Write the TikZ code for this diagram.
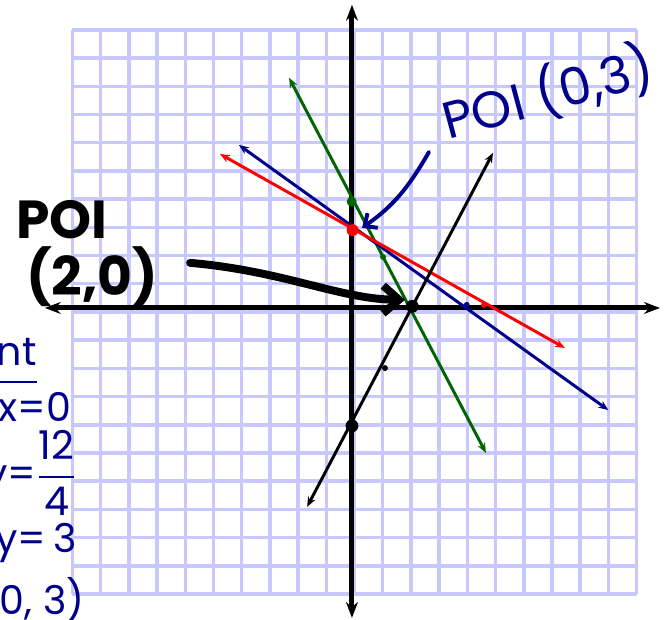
\documentclass[tikz,border=0pt]{standalone}
\usepackage{amsmath}
\usepackage{fontspec}
\setsansfont{Poppins}
\usepackage{tikz}
\usetikzlibrary{arrows.meta,positioning}
\definecolor{poiink}{RGB}{0,0,0}
\definecolor{poiblue}{RGB}{0,0,140}
\definecolor{poired}{RGB}{255,0,0}
\definecolor{poigreen}{RGB}{0,100,0}
\definecolor{poigrid}{RGB}{200,200,252}

\begin{document}
\begin{tikzpicture}[x=0.5cm,y=0.5cm,
  ln/.style={line width=1.5pt,{Stealth[length=5pt,width=4pt]}-{Stealth[length=5pt,width=4pt]}},
  ax/.style={line width=2.5pt,draw=poiink,{Stealth[length=8pt,width=6pt]}-{Stealth[length=8pt,width=6pt]}},
  dot/.style={circle,fill=#1,inner sep=0pt,minimum size=6pt},
  tick/.style={circle,fill=#1,inner sep=0pt,minimum size=3pt},
  hand/.style={font=\sffamily\fontsize{20}{22}\selectfont,text=poiblue,inner sep=0pt},
  poitxt/.style={font=\sffamily\bfseries\fontsize{27}{29}\selectfont,text=poiink,inner sep=0pt}]
\useasboundingbox (-12.57,-10.89) rectangle (11.08,11.06);
\draw[poigrid,line width=1.8pt,step=0.5cm] (-10,-10) grid (10,10);
\draw[ax] (-10.98,0.14) -- (10.83,0.14);
\draw[ax] (-0.09,-10.85) -- (-0.09,10.89);
% line ends
\coordinate (g1) at (-2.32,8.30); \coordinate (g2) at (4.66,-5.00);
\coordinate (b1) at (-4.10,5.92); \coordinate (b2) at (9.00,-3.48);
\coordinate (r1) at (-4.77,5.60); \coordinate (r2) at (7.46,-1.28);
\coordinate (k1) at (-1.68,-6.91); \coordinate (k2) at (4.91,5.64);
\foreach \u/\v/\c in {g1/g2/poigreen,b1/b2/poiblue,r1/r2/poired,k1/k2/poiink}
  \draw[ln,\c] (\u)--(\v);
% points
\node[dot=poigreen,minimum size=5pt] (G) at (-0.1,3.91) {};
\node[dot=poired] (R) at (-0.07,2.90) {};
\node[dot=poiink,minimum size=6.5pt] (K) at (2.05,0.20) {};
\node[dot=poiink,minimum size=6.5pt] (Y) at (-0.09,-4.04) {};
\node[tick=poigreen] (g12) at (1.01,1.95) {};
\node[tick=poiink] (k12) at (1.08,-1.99) {};
\node[tick=poiblue] (b40) at (3.98,0.25) {};
\node[tick=poired] (r40) at (4.59,0.25) {};
% notes
\node[hand,font=\sffamily\fontsize{26}{28}\selectfont,rotate=15] (poiA) at (6.85,7.75) {POI (0,3)};
\coordinate (aS) at (2.64,5.67); \coordinate (aT) at (0.27,2.98);
\draw[poiblue,line width=2pt,line cap=round,-{Straight Barb[length=5pt,width=9pt]}] (aS) to[out=240,in=35] (aT);
\node[poitxt] (poiB) at (-10.37,3.26) {POI};
\node[poitxt] (poiBc) at (-9.30,1.24) {(2,0)};
\coordinate (bS) at (-5.83,1.74); \coordinate (bT) at (1.79,0.43);
\draw[poiink,line width=4pt,line cap=round,-{Straight Barb[length=8pt,width=14pt]}] (bS) .. controls (-2.5,1.45) and (-0.5,0.45) .. (bT);
\node[hand,anchor=east] (yint) at (-11.26,-1.70) {\underline{y-int}};
\node[hand,anchor=east] (letx) at (-10.02,-3.37) {Let x=0};
\node[hand,anchor=east] (yfr) at (-9.84,-5.71) {y=$\dfrac{\text{12}}{\text{4}}$};
\node[hand,anchor=east] (ythree) at (-9.84,-8.19) {y=\,3};
\node[hand,anchor=east] (pt03) at (-9.56,-10.21) {(0, 3)};
\end{tikzpicture}
\end{document}
